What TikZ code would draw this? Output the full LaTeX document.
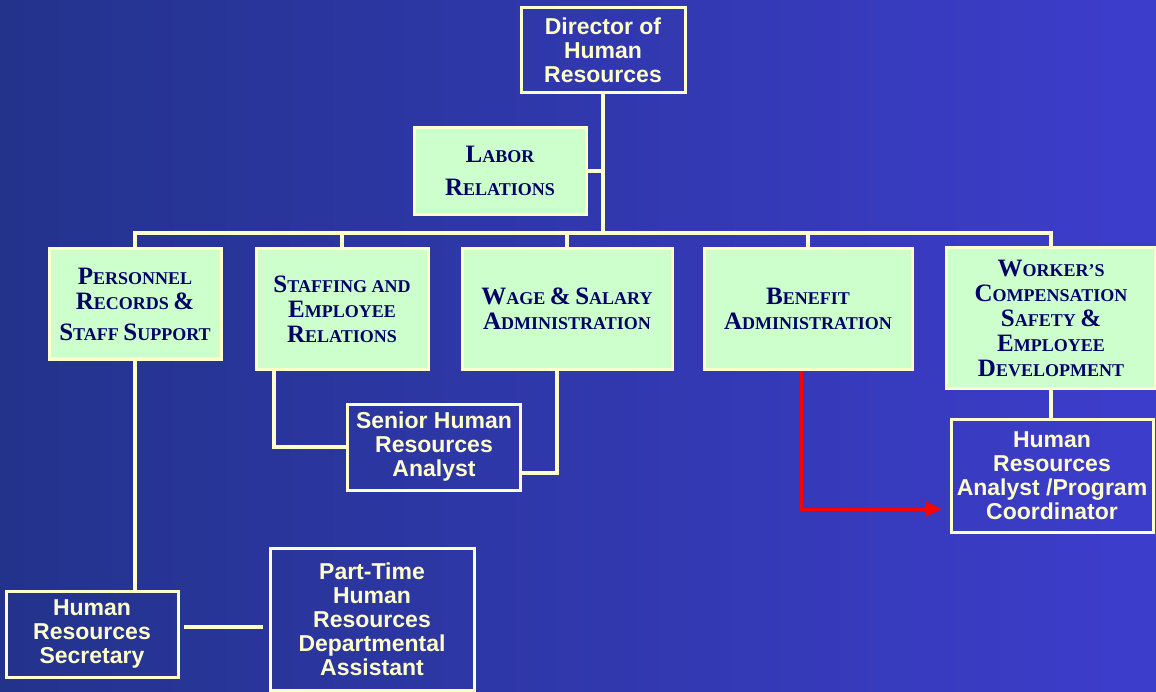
\documentclass[tikz,border=0pt]{standalone}
\usepackage{fontspec}
\setmainfont{Liberation Serif}
\newfontfamily\hrsans{Liberation Sans}
\usepackage{tikz}
\usetikzlibrary{arrows.meta,positioning,calc}
\definecolor{cream}{HTML}{FFFFCC}
\definecolor{mint}{HTML}{CCFFCC}
\definecolor{navytext}{HTML}{000066}
\definecolor{bgleft}{HTML}{23338C}
\definecolor{bgright}{HTML}{3D3DCC}
\newcommand\scw[2]{{\fontsize{25}{25}\selectfont #1}#2}

\begin{document}
\begin{tikzpicture}[x=1pt, y=-1pt, thick,
        greenbox/.style={draw=cream, line width=3pt, fill=mint, text=navytext, align=center, inner sep=0pt, font=\fontsize{18}{25}\selectfont\bfseries},
        bluebox/.style={draw=cream, line width=3pt, text=cream, align=center, inner sep=0pt, font=\hrsans\fontsize{23}{24}\selectfont\bfseries},
        link/.style={draw=cream, line width=4pt},
        redlink/.style={draw=red, line width=3pt, -{Triangle[length=16pt,width=15pt]}, shorten >=8pt}]
        \useasboundingbox (0,0) rectangle (1156,692);
        \shade[left color=bgleft, right color=bgright] (0,0) rectangle (1156,692);

        % Nodes
        \node[bluebox, minimum width=164pt, minimum height=85pt] (dir) at (603,50) {Director of\\Human\\Resources};
        \node[greenbox, minimum width=172pt, minimum height=87pt] (labor) at (500,171) {\scw{L}{ABOR}\\[8pt]\scw{R}{ELATIONS}};

        \node[greenbox, minimum width=172pt, minimum height=110pt] (pers) at (135,304) {\scw{P}{ERSONNEL}\\\scw{R}{ECORDS} \scw{\&}{}\\[6pt]\scw{S}{TAFF} \scw{S}{UPPORT}};
        \node[greenbox, minimum width=172pt, minimum height=120pt] (staff) at (342,309) {\scw{S}{TAFFING AND}\\\scw{E}{MPLOYEE}\\\scw{R}{ELATIONS}};
        \node[greenbox, minimum width=210pt, minimum height=120pt] (wage) at (567,309) {\scw{W}{AGE} \scw{\&}{} \scw{S}{ALARY}\\\scw{A}{DMINISTRATION}};
        \node[greenbox, minimum width=208pt, minimum height=120pt] (ben) at (808,309) {\scw{B}{ENEFIT}\\\scw{A}{DMINISTRATION}};
        \node[greenbox, minimum width=209pt, minimum height=141pt] (work) at (1051,318) {\scw{W}{ORKER'S}\\\scw{C}{OMPENSATION}\\\scw{S}{AFETY} \scw{\&}{}\\\scw{E}{MPLOYEE}\\\scw{D}{EVELOPMENT}};

        \node[bluebox, minimum width=173pt, minimum height=86pt] (senior) at (434,447) {Senior Human\\Resources\\Analyst};
        \node[bluebox, minimum width=202pt, minimum height=113pt] (hra) at (1052,476) {Human\\Resources\\Analyst /Program\\Coordinator};
        \node[bluebox, minimum width=172pt, minimum height=86pt] (sec) at (92,634) {Human\\Resources\\Secretary};
        \node[bluebox, minimum width=204pt, minimum height=142pt] (pt) at (372,619) {Part-Time\\Human\\Resources\\Departmental\\Assistant};

        \coordinate (bus) at (0,233);

        % Edges
        \draw[link] (dir.south) -- (dir.south |- bus);
        \draw[link] (labor.east) -- (labor.east -| dir.south);
        \draw[link] (pers.north) -- (pers.north |- bus) -- (work.north |- bus) -- (work.north);
        \foreach \n in {staff,wage,ben}
            \draw[link] (\n.north) -- (\n.north |- bus);

        \draw[link] ([xshift=-68pt]staff.south) |- (senior.west);
        \draw[link] ([xshift=-10pt]wage.south) |- ([yshift=-26pt]senior.east);
        \draw[link] (work.south) -- (work.south |- hra.north);
        \draw[redlink] ([xshift=-7pt]ben.south) |- ([yshift=-33pt]hra.west);

        \draw[link] (pers.south) -- (pers.south |- sec.north);
        \draw[link, shorten <=4pt, shorten >=6pt] ([yshift=7pt]sec.east) -- ([yshift=7pt]sec.east -| pt.west);
    \end{tikzpicture}
\end{document}
